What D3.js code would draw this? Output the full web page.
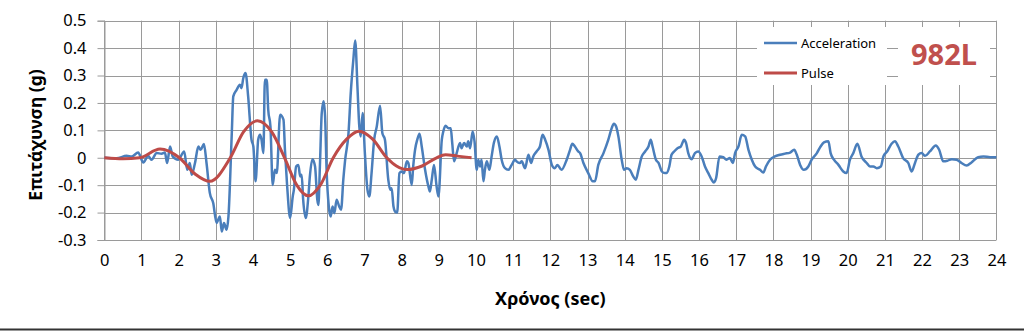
<!doctype html>
<html lang="el">
  <head>
    <meta charset="UTF-8" />
    <title>982L</title>
    <style>
      body {
        margin: 0;
        background: #fff;
        overflow: hidden;
      }
      svg {
        display: block;
        font-family: "Noto Sans", "Open Sans", sans-serif;
      }
      .grid line {
        stroke: #9a9a9a;
        stroke-width: 1;
      }
    </style>
  </head>
  <body>
    <script src="https://cdn.jsdelivr.net/npm/d3@7"></script>
    <script>
      // acceleration record (sec, g)
      const accTime = [
        0, 0.33, 0.6, 0.74, 0.91, 1.05, 1.18, 1.27, 1.41, 1.54, 1.63, 1.69, 1.77, 1.84, 1.99,
        2.15, 2.23, 2.3, 2.35, 2.44, 2.53, 2.59, 2.68, 2.75, 2.84, 2.93, 3.02, 3.11, 3.16, 3.22,
        3.29, 3.34, 3.43, 3.47, 3.56, 3.65, 3.69, 3.74, 3.8, 3.87, 3.96, 4.01, 4.07, 4.14, 4.19,
        4.23, 4.28, 4.32, 4.37, 4.41, 4.47, 4.53, 4.59, 4.64, 4.73, 4.82, 4.86, 4.92, 5.0, 5.07,
        5.1, 5.16, 5.22, 5.27, 5.31, 5.35, 5.42, 5.49, 5.53, 5.6, 5.67, 5.73, 5.76, 5.8, 5.85,
        5.9, 5.94, 5.98, 6.04, 6.09, 6.14, 6.19, 6.25, 6.32, 6.37, 6.43, 6.48, 6.57, 6.63, 6.7,
        6.75, 6.81, 6.86, 6.9, 6.95, 7.01, 7.08, 7.13, 7.19, 7.26, 7.33, 7.42, 7.48, 7.55, 7.64,
        7.69, 7.73, 7.78, 7.82, 7.88, 7.94, 8.0, 8.06, 8.14, 8.18, 8.27, 8.31, 8.36, 8.42, 8.48,
        8.54, 8.63, 8.72, 8.76, 8.81, 8.87, 8.94, 8.99, 9.08, 9.12, 9.18, 9.26, 9.32, 9.36, 9.41,
        9.48, 9.57, 9.61, 9.68, 9.75, 9.79, 9.84, 9.91, 9.96, 10.02, 10.06, 10.11, 10.15, 10.2,
        10.24, 10.29, 10.36, 10.42, 10.48, 10.56, 10.63, 10.69, 10.78, 10.87, 10.96, 11.05, 11.09,
        11.18, 11.23, 11.32, 11.41, 11.48, 11.54, 11.63, 11.72, 11.79, 11.86, 11.95, 12.04, 12.12,
        12.19, 12.3, 12.44, 12.53, 12.59, 12.66, 12.75, 12.8, 12.89, 13.02, 13.14, 13.2, 13.29,
        13.43, 13.56, 13.65, 13.71, 13.77, 13.83, 13.92, 13.98, 14.05, 14.14, 14.23, 14.3, 14.37,
        14.46, 14.55, 14.64, 14.7, 14.75, 14.84, 14.91, 15.0, 15.08, 15.13, 15.2, 15.26, 15.33,
        15.42, 15.51, 15.6, 15.65, 15.71, 15.8, 15.89, 15.98, 16.07, 16.16, 16.25, 16.34, 16.4,
        16.46, 16.55, 16.65, 16.74, 16.83, 16.91, 16.97, 17.06, 17.15, 17.24, 17.33, 17.42, 17.51,
        17.64, 17.73, 17.8, 17.91, 18.04, 18.18, 18.31, 18.45, 18.56, 18.63, 18.72, 18.82, 18.94,
        19.03, 19.17, 19.27, 19.36, 19.48, 19.54, 19.63, 19.75, 19.88, 19.97, 20.06, 20.15, 20.26,
        20.37, 20.51, 20.6, 20.69, 20.78, 20.89, 20.96, 21.06, 21.18, 21.27, 21.36, 21.49, 21.63,
        21.72, 21.81, 21.9, 21.99, 22.08, 22.21, 22.37, 22.46, 22.57, 22.68, 22.8, 22.93, 23.06,
        23.2, 23.33, 23.51, 23.65, 23.83, 24.0,
      ];
      const accValue = [
        0, -0.002, 0.007, 0.005, 0.019, -0.017, 0.007, -0.007, 0.017, 0.015, 0.019, -0.019, 0.041,
        0.005, -0.007, 0.023, -0.044, -0.019, -0.062, -0.019, 0.041, 0.029, 0.05, -0.019, -0.129,
        -0.165, -0.238, -0.214, -0.269, -0.238, -0.263, -0.214, 0.09, 0.224, 0.248, 0.266, 0.254,
        0.291, 0.309, 0.224, 0.066, 0.041, -0.086, 0.066, 0.084, 0.066, 0.017, 0.285, 0.285, 0.175,
        0.114, -0.099, -0.044, -0.056, 0.157, 0.139, 0.029, -0.105, -0.22, -0.141, -0.117, -0.032,
        -0.026, -0.068, -0.062, -0.153, -0.22, -0.141, -0.068, -0.005, -0.032, -0.153, -0.172,
        -0.032, 0.163, 0.206, 0.151, -0.044, -0.178, -0.214, -0.178, -0.202, -0.153, -0.178, -0.19,
        -0.08, -0.007, 0.09, 0.236, 0.358, 0.428, 0.26, 0.114, 0.078, 0.163, 0.017, -0.117, -0.141,
        -0.056, 0.066, 0.114, 0.19, 0.09, 0.066, -0.08, -0.117, -0.111, -0.178, -0.196, -0.2,
        -0.056, -0.05, -0.056, -0.013, -0.019, -0.099, -0.032, 0.029, 0.066, 0.088, 0.041, -0.044,
        -0.105, -0.123, -0.08, -0.026, -0.105, -0.141, 0.066, 0.096, 0.117, 0.108, 0.108, 0.054,
        -0.013, 0.017, 0.054, 0.035, 0.054, 0.041, 0.06, 0.035, 0.096, 0.06, -0.044, -0.007,
        -0.032, -0.007, -0.086, -0.044, -0.013, -0.044, 0.005, 0.054, 0.078, 0.041, -0.007, -0.038,
        -0.044, -0.026, -0.007, -0.013, -0.019, -0.013, -0.038, 0.011, -0.019, 0.005, 0.023, 0.041,
        0.084, 0.066, 0.029, -0.026, -0.038, -0.026, -0.044, -0.007, 0.029, 0.051, 0.041, 0.023,
        0.017, -0.019, -0.056, -0.086, -0.086, -0.026, 0.017, 0.066, 0.108, 0.124, 0.114, 0.078,
        -0.007, -0.044, -0.038, -0.044, -0.068, -0.08, -0.044, 0.005, 0.023, 0.041, 0.066, 0.041,
        -0.007, -0.019, -0.05, -0.056, -0.056, -0.032, 0.011, 0.023, 0.035, 0.041, 0.066, 0.054,
        0.017, -0.005, 0.017, 0.023, 0.005, -0.032, -0.056, -0.08, -0.09, -0.074, 0.005, 0.002,
        -0.007, -0.001, -0.019, 0.017, 0.041, 0.084, 0.078, 0.029, -0.007, -0.032, -0.044, -0.054,
        -0.032, -0.007, 0.005, 0.011, 0.015, 0.019, 0.029, 0.011, -0.026, -0.044, -0.032, -0.007,
        0.017, 0.041, 0.056, 0.06, 0.017, -0.007, -0.026, -0.05, -0.056, -0.007, 0.017, 0.051,
        0.005, -0.019, -0.032, -0.032, -0.038, -0.032, 0.005, 0.023, 0.051, 0.06, 0.041, -0.001,
        -0.019, -0.05, -0.019, 0.011, 0.017, 0.007, 0.023, 0.045, 0.029, -0.013, -0.011, -0.005,
        -0.007, -0.019, -0.028, -0.017, 0.002, 0.005, 0.002, 0.002,
      ];

      // velocity pulse fit (sec, g)
      const pulseTime = [
        0, 0.5, 0.95, 1.5, 2.02, 2.45, 2.84, 3.39, 3.75, 4.12, 4.5, 4.85, 5.17, 5.49, 5.82, 6.16,
        6.52, 6.85, 7.22, 7.6, 7.86, 8.15, 8.55, 8.94, 9.18, 9.5, 9.88,
      ];
      const pulseValue = [
        0, -0.004, 0.0, 0.032, 0.0, -0.06, -0.086, 0.0, 0.095, 0.135, 0.095, 0.0, -0.098, -0.139,
        -0.098, 0.0, 0.068, 0.097, 0.068, 0.0, -0.03, -0.043, -0.03, 0.0, 0.011, 0.006, 0.0,
      ];

      const xTicks = d3.range(0, 25);
      const yTicks = [-0.3, -0.2, -0.1, 0, 0.1, 0.2, 0.3, 0.4, 0.5];
      const seriesNames = ["Acceleration", "Pulse"];
      const seriesColors = ["#4a7ebb", "#be4b48"];
      const stationLabel = "982L";

      const width = 1024;
      const height = 333;
      const margin = { left: 104.3, right: 27.6, top: 20.7, bottom: 93 };

      const svg = d3
        .select("body")
        .append("svg")
        .attr("width", width)
        .attr("height", height);

      const x = d3
        .scaleLinear()
        .domain([0, 24])
        .range([margin.left, width - margin.right]);
      const y = d3
        .scaleLinear()
        .domain([-0.3, 0.5])
        .range([height - margin.bottom, margin.top]);

      // grid
      const grid = svg.append("g").attr("class", "grid");
      grid
        .selectAll("line.h")
        .data(yTicks)
        .join("line")
        .attr("class", "h")
        .attr("x1", x(0))
        .attr("x2", x(24))
        .attr("y1", (d) => Math.round(y(d)) + 0.5)
        .attr("y2", (d) => Math.round(y(d)) + 0.5);
      grid
        .selectAll("line.v")
        .data(xTicks)
        .join("line")
        .attr("class", "v")
        .attr("x1", (d) => Math.round(x(d)) + 0.5)
        .attr("x2", (d) => Math.round(x(d)) + 0.5)
        .attr("y1", y(0.5))
        .attr("y2", y(-0.3));

      // y axis
      const yAxis = svg
        .append("g")
        .attr("transform", `translate(${Math.round(x(0)) + 0.5},0)`)
        .call(
          d3
            .axisLeft(y)
            .tickValues(yTicks)
            .tickSize(7)
            .tickPadding(11)
            .tickFormat((d) => (d === 0 ? "0" : d.toFixed(1))),
        );
      yAxis.select(".domain").attr("stroke", "#9a9a9a");
      yAxis.selectAll(".tick line").attr("stroke", "#9a9a9a");
      yAxis
        .selectAll(".tick text")
        .attr("fill", "#000")
        .style("font-size", "16.5px")
        .style("font-family", "Noto Sans");

      // x axis labels
      const xAxis = svg
        .append("g")
        .attr("transform", `translate(0,${y(-0.3)})`)
        .call(d3.axisBottom(x).tickValues(xTicks).tickSize(0).tickPadding(14));
      xAxis.select(".domain").remove();
      xAxis
        .selectAll(".tick text")
        .attr("fill", "#000")
        .style("font-size", "16.5px")
        .style("font-family", "Noto Sans");

      // series
      const accLine = d3
        .line()
        .curve(d3.curveMonotoneX)
        .x((d) => x(d[0]))
        .y((d) => y(d[1]));
      svg
        .append("path")
        .datum(d3.zip(accTime, accValue))
        .attr("fill", "none")
        .attr("stroke", seriesColors[0])
        .attr("stroke-width", 2.5)
        .attr("stroke-linejoin", "round")
        .attr("d", accLine);

      const pulseLine = d3
        .line()
        .curve(d3.curveMonotoneX)
        .x((d) => x(d[0]))
        .y((d) => y(d[1]));
      svg
        .append("path")
        .datum(d3.zip(pulseTime, pulseValue))
        .attr("fill", "none")
        .attr("stroke", seriesColors[1])
        .attr("stroke-width", 3)
        .attr("d", pulseLine);

      // legend box
      const legend = svg.append("g");
      legend
        .append("rect")
        .attr("x", 757)
        .attr("y", 27)
        .attr("width", 130)
        .attr("height", 58)
        .attr("fill", "#fff");
      seriesNames.forEach((name, i) => {
        const ly = 43 + i * 30;
        legend
          .append("line")
          .attr("x1", 764)
          .attr("x2", 797)
          .attr("y1", ly)
          .attr("y2", ly)
          .attr("stroke", seriesColors[i])
          .attr("stroke-width", i ? 3 : 2.5);
        legend
          .append("text")
          .attr("x", 801)
          .attr("y", ly + 4.5)
          .style("font-size", "13px")
          .text(name);
      });

      // station label
      svg
        .append("rect")
        .attr("x", 898)
        .attr("y", 27)
        .attr("width", 92)
        .attr("height", 58)
        .attr("fill", "#fff");
      svg
        .append("text")
        .attr("x", 944)
        .attr("y", 65)
        .attr("text-anchor", "middle")
        .attr("fill", "#c0504d")
        .style("font-size", "29px")
        .style("font-weight", "bold")
        .text(stationLabel);

      // axis titles
      svg
        .append("text")
        .attr("x", x(12))
        .attr("y", 305)
        .attr("text-anchor", "middle")
        .style("font-size", "18px")
        .style("font-weight", "bold")
        .text("Χρόνος (sec)");
      svg
        .append("text")
        .attr("transform", "translate(42,135) rotate(-90)")
        .attr("text-anchor", "middle")
        .style("font-size", "17.5px")
        .style("font-weight", "bold")
        .text("Επιτάχυνση (g)");

      // bottom rule
      svg
        .append("line")
        .attr("x1", 0)
        .attr("x2", width)
        .attr("y1", 329.5)
        .attr("y2", 329.5)
        .attr("stroke", "#333")
        .attr("stroke-width", 2);
    </script>
  </body>
</html>
